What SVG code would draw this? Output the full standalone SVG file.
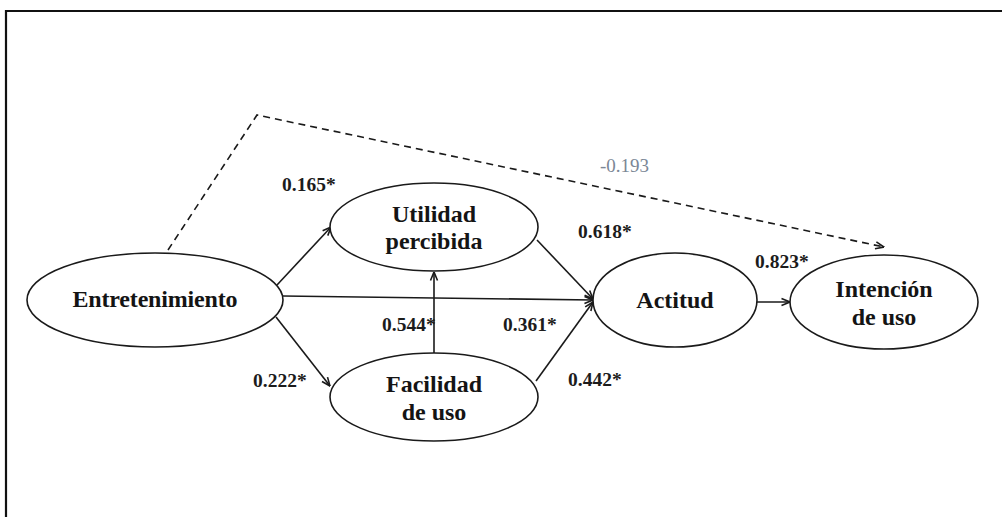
<svg xmlns="http://www.w3.org/2000/svg" width="1002" height="517" viewBox="0 0 1002 517">
  <style>
    .node ellipse { fill: #ffffff; stroke: #1a1a1a; stroke-width: 1.6; }
    .node text { font-family: "Liberation Serif", "Times New Roman", serif; font-weight: bold; font-size: 24px; fill: #141414; text-anchor: middle; }
    .edge { fill: none; stroke: #1a1a1a; stroke-width: 1.6; }
    .dashed { stroke-dasharray: 7 5; }
    .coef { font-family: "Liberation Serif", "Times New Roman", serif; font-weight: bold; font-size: 19.5px; fill: #1c1c1c; }
    .coef-ns { font-family: "Liberation Serif", "Times New Roman", serif; font-size: 19px; fill: #7b8796; }
  </style>
  <defs>
    <marker id="arrow" viewBox="0 0 10 10" refX="9.5" refY="5" markerWidth="10" markerHeight="10" markerUnits="userSpaceOnUse" orient="auto">
      <path d="M1,1.5 L9.5,5 L1,8.5" fill="none" stroke="#1a1a1a" stroke-width="1.6"/>
    </marker>
  </defs>

  <rect width="1002" height="517" fill="#ffffff"/>
  <!-- frame -->
  <path d="M6,520 L6,11 L1005,11" fill="none" stroke="#111111" stroke-width="2.2"/>

  <!-- connectors -->
  <g id="connectors">
    <line class="edge" x1="277" y1="285" x2="331" y2="227" marker-end="url(#arrow)"/>
    <line class="edge" x1="276" y1="317" x2="330" y2="386" marker-end="url(#arrow)"/>
    <line class="edge" x1="283" y1="296" x2="593" y2="300" marker-end="url(#arrow)"/>
    <line class="edge" x1="537" y1="240" x2="593" y2="299" marker-end="url(#arrow)"/>
    <line class="edge" x1="536" y1="381" x2="593" y2="302" marker-end="url(#arrow)"/>
    <line class="edge" x1="434" y1="353" x2="434" y2="272" marker-end="url(#arrow)"/>
    <line class="edge" x1="757" y1="302" x2="790" y2="302" marker-end="url(#arrow)"/>
    <polyline class="edge dashed" points="168,250 257,115 884,247" marker-end="url(#arrow)"/>
  </g>

  <!-- path coefficients -->
  <g id="labels">
    <text class="coef" x="282" y="191">0.165*</text>
    <text class="coef-ns" x="600" y="172">-0.193</text>
    <text class="coef" x="578" y="238">0.618*</text>
    <text class="coef" x="755" y="268">0.823*</text>
    <text class="coef" x="382" y="331">0.544*</text>
    <text class="coef" x="503" y="331">0.361*</text>
    <text class="coef" x="253" y="387">0.222*</text>
    <text class="coef" x="568" y="386">0.442*</text>
  </g>

  <g id="entretenimiento" class="node">
    <ellipse cx="155" cy="300" rx="128" ry="47"/>
    <text x="155" y="307" textLength="165" lengthAdjust="spacing">Entretenimiento</text>
  </g>
  <g id="utilidad" class="node">
    <ellipse cx="434" cy="227" rx="104" ry="44"/>
    <text x="434" y="222">Utilidad</text>
    <text x="434" y="249">percibida</text>
  </g>
  <g id="facilidad" class="node">
    <ellipse cx="434" cy="397" rx="104" ry="44"/>
    <text x="434" y="392">Facilidad</text>
    <text x="434" y="420">de uso</text>
  </g>
  <g id="actitud" class="node">
    <ellipse cx="675" cy="300" rx="82" ry="47"/>
    <text x="675" y="308">Actitud</text>
  </g>
  <g id="intencion" class="node">
    <ellipse cx="884" cy="302" rx="94" ry="47"/>
    <text x="884" y="297">Intención</text>
    <text x="884" y="325">de uso</text>
  </g>
</svg>
